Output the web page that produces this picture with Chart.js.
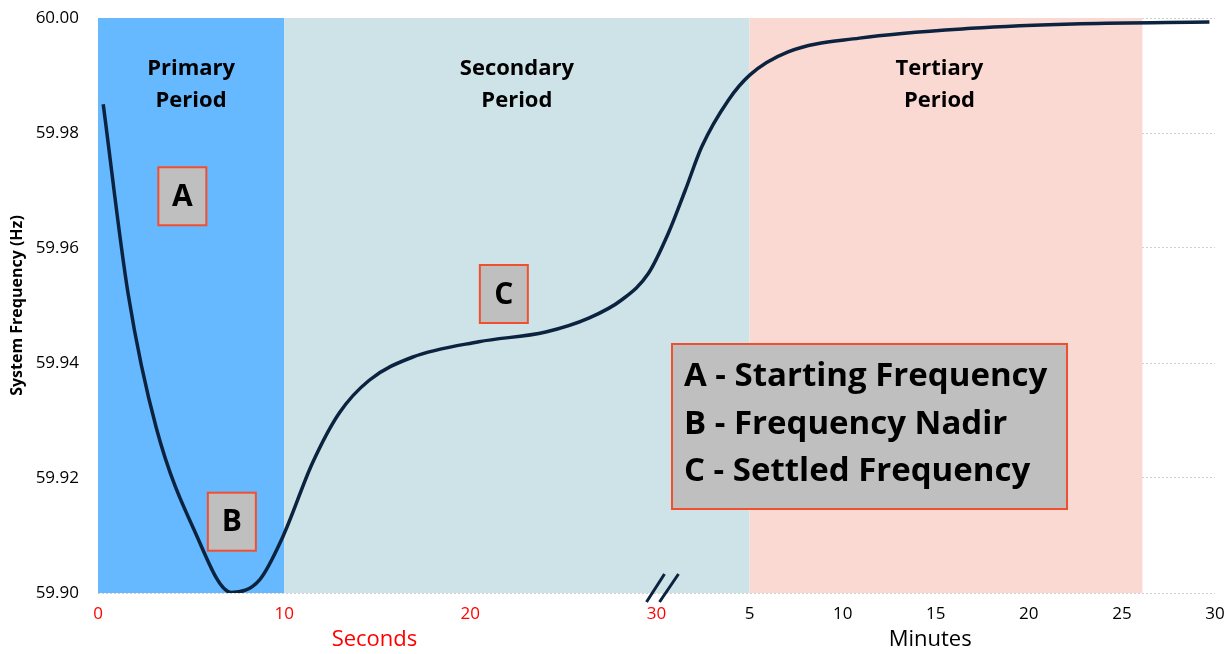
<!DOCTYPE html>
<html>
<head>
<meta charset="utf-8">
<script src="https://cdn.jsdelivr.net/npm/chart.js@4.4.1/dist/chart.umd.min.js"></script>
<style>
  html, body { margin: 0; padding: 0; background: #fff; }
  #wrap { width: 1230px; height: 654px; }
</style>
</head>
<body>
<div id="wrap"><canvas id="freqChart"></canvas></div>
<script>
// Axis position: 0-30 = seconds, 30-60 = minutes 0..30 (break at 30 s)
let timePos = [0.28, 1.62, 3.14, 5.2, 7.16, 8.68, 9.93, 11.52, 12.96, 14.57, 16.88, 20.46, 24.05, 26.36, 28.14, 29.57, 30.64, 31.54, 32.43, 33.86, 35.02, 37.07, 40.9, 46.9, 52.8, 59.7];
let frequency = [59.985, 59.952, 59.9286, 59.9107, 59.9001, 59.9023, 59.9098, 59.9226, 59.9313, 59.937, 59.941, 59.9437, 59.9454, 59.9478, 59.951, 59.9556, 59.9626, 59.970, 59.9776, 59.9857, 59.9901, 59.9941, 59.9965, 59.9982, 59.999, 59.9993];

let tickPos = [0, 10, 20, 30, 35, 40, 45, 50, 55, 60];
let tickLabels = ["0", "10", "20", "30", "5", "10", "15", "20", "25", "30"];

let periodNames = [["Primary", "Period"], ["Secondary", "Period"], ["Tertiary", "Period"]];
let periodStart = [0, 10, 35];
let periodEnd = [10, 35, 56.1];

let markerLetters = ["A", "B", "C"];
let legendLines = ["A - Starting Frequency", "B - Frequency Nadir", "C - Settled Frequency"];

// Styling / placement
let periodColors = ["#66b8ff", "#cde3e8", "#fbd9d3"];
let periodLabelX = [5, 22.5, 45.2];
let markerSpots = [[4.53, 59.969], [7.19, 59.9124], [21.8, 59.952]]; // box centres in data coords
let FONT = "'Open Sans', Lato, sans-serif";

// Draws the shaded periods, markers, legend box and axis break
let decorPlugin = {
    id: "decor",
    beforeDatasetsDraw(chart) {
        let ctx = chart.ctx;
        let xs = chart.scales.x, area = chart.chartArea;
        ctx.save();
        for (let i = 0; i < periodStart.length; i++) {
            let x1 = xs.getPixelForValue(periodStart[i]);
            let x2 = xs.getPixelForValue(periodEnd[i]);
            ctx.fillStyle = periodColors[i];
            ctx.fillRect(x1, area.top, x2 - x1, area.bottom - area.top);
        }
        // period titles
        ctx.fillStyle = "#000";
        ctx.font = "bold 22px " + FONT;
        ctx.textAlign = "center";
        ctx.textBaseline = "middle";
        for (let i = 0; i < periodNames.length; i++) {
            let cx = xs.getPixelForValue(periodLabelX[i]);
            ctx.fillText(periodNames[i][0], cx, 69);
            ctx.fillText(periodNames[i][1], cx, 101);
        }
        ctx.restore();
    },
    afterDatasetsDraw(chart) {
        let ctx = chart.ctx;
        let xs = chart.scales.x, ys = chart.scales.y;
        ctx.save();
        // marker boxes
        for (let i = 0; i < markerLetters.length; i++) {
            let cx = xs.getPixelForValue(markerSpots[i][0]);
            let cy = ys.getPixelForValue(markerSpots[i][1]);
            ctx.fillStyle = "#bfbfbf";
            ctx.fillRect(cx - 24, cy - 29, 48, 58);
            ctx.strokeStyle = "#f0502f";
            ctx.lineWidth = 2;
            ctx.strokeRect(cx - 24, cy - 29, 48, 58);
            ctx.fillStyle = "#000";
            ctx.font = "bold 30px " + FONT;
            ctx.textAlign = "center";
            ctx.textBaseline = "middle";
            ctx.fillText(markerLetters[i], cx, cy + 1);
        }
        // legend box
        ctx.fillStyle = "#bfbfbf";
        ctx.fillRect(672, 344, 395, 165);
        ctx.strokeStyle = "#f0502f";
        ctx.lineWidth = 2;
        ctx.strokeRect(672, 344, 395, 165);
        ctx.fillStyle = "#000";
        ctx.font = "bold 33px " + FONT;
        ctx.textAlign = "left";
        ctx.textBaseline = "middle";
        for (let i = 0; i < legendLines.length; i++) {
            ctx.fillText(legendLines[i], 684, 377 + i * 47.5);
        }
        ctx.restore();
    },
    afterDraw(chart) {
        let ctx = chart.ctx;
        let xs = chart.scales.x, area = chart.chartArea;
        ctx.save();
        // axis break marks
        let bx = xs.getPixelForValue(30);
        ctx.strokeStyle = "#0c2340";
        ctx.lineWidth = 3;
        ctx.beginPath();
        ctx.moveTo(bx - 10, area.bottom + 9);
        ctx.lineTo(bx + 8, area.bottom - 19);
        ctx.moveTo(bx + 3, area.bottom + 9);
        ctx.lineTo(bx + 22, area.bottom - 19);
        ctx.stroke();
        // axis titles
        ctx.font = "22px " + FONT;
        ctx.textAlign = "center";
        ctx.textBaseline = "middle";
        ctx.fillStyle = "#ff0000";
        ctx.fillText("Seconds", xs.getPixelForValue(14.85), 640);
        ctx.fillStyle = "#000";
        ctx.fillText("Minutes", xs.getPixelForValue(44.7), 640);
        ctx.restore();
    }
};

let points = timePos.map((t, i) => ({ x: t, y: frequency[i] }));

new Chart(document.getElementById("freqChart"), {
    type: "line",
    data: {
        datasets: [{
            data: points,
            borderColor: "#0c2340",
            borderWidth: 3.5,
            pointRadius: 0,
            cubicInterpolationMode: "monotone",
            fill: false
        }]
    },
    options: {
        responsive: true,
        maintainAspectRatio: false,
        animation: false,
        layout: { padding: { top: 18, right: 15, left: 0, bottom: 0 } },
        plugins: { legend: { display: false }, tooltip: { enabled: false } },
        scales: {
            x: {
                type: "linear",
                min: 0,
                max: 60,
                afterBuildTicks: (scale) => { scale.ticks = tickPos.map(v => ({ value: v })); },
                afterFit: (scale) => {
                    scale.height = 61;
                    scale.paddingLeft = 0;
                    scale.paddingRight = 0;
                },
                grid: { display: false },
                border: { display: false },
                ticks: {
                    autoSkip: false,
                    maxRotation: 0,
                    padding: 3,
                    font: { family: FONT, size: 17 },
                    color: (c) => (c.tick && c.tick.value <= 30 ? "#ff0000" : "#000"),
                    callback: (v) => tickLabels[tickPos.indexOf(v)]
                }
            },
            y: {
                min: 59.90,
                max: 60.00,
                afterFit: (scale) => {
                    scale.width = 98;
                    scale.paddingTop = 0;
                    scale.paddingBottom = 0;
                },
                grid: { color: "#cfcfcf", lineWidth: 1, drawTicks: false },
                border: { display: false, dash: [2, 2] },
                ticks: {
                    stepSize: 0.02,
                    padding: 19,
                    color: "#000",
                    font: { family: FONT, size: 17 },
                    callback: (v) => v.toFixed(2)
                },
                title: {
                    display: true,
                    text: "System Frequency (Hz)",
                    color: "#000",
                    font: { family: FONT, size: 16, weight: "bold" },
                    padding: { top: 8, bottom: 0 }
                }
            }
        }
    },
    plugins: [decorPlugin]
});
</script>
</body>
</html>
